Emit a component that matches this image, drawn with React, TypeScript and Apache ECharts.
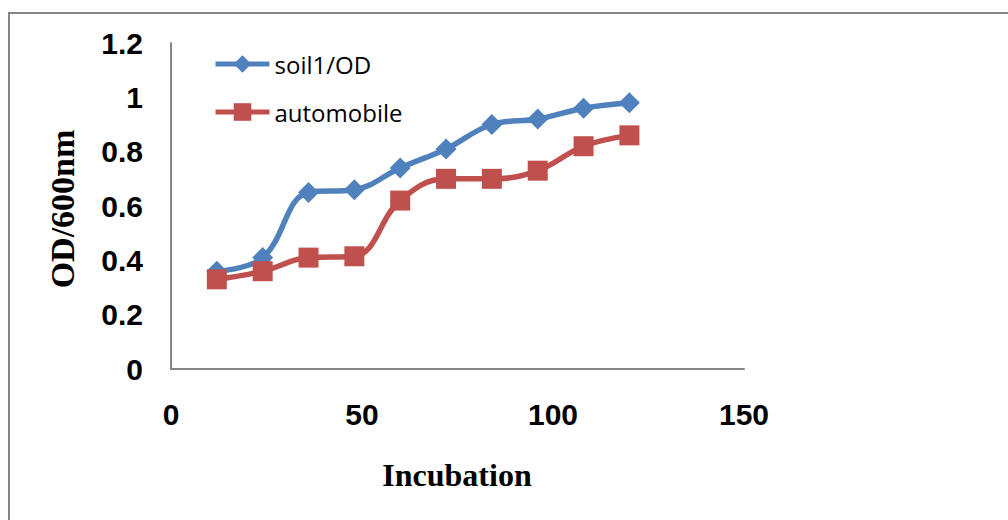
import React, { useEffect, useRef } from "react";
import * as echarts from "echarts";

// Incubation time (hours) and optical density readings at 600 nm
const incubationHours = [12, 24, 36, 48, 60, 72, 84, 96, 108, 120];
const soil1OD = [0.36, 0.41, 0.65, 0.66, 0.74, 0.81, 0.9, 0.92, 0.96, 0.98];
const automobileOD = [0.33, 0.36, 0.41, 0.415, 0.62, 0.7, 0.7, 0.73, 0.82, 0.86];
const seriesNames = ["soil1/OD", "automobile"];
const seriesColors = ["#4F81BD", "#C0504D"];

// Axis ranges and tick steps
const xRange = { min: 0, max: 150, interval: 50 };
const yRange = { min: 0, max: 1.2, interval: 0.2 };

const xAxisTitle = "Incubation";
const yAxisTitle = "OD/600nm";

const GRAY = "#868686";
const LINE_WIDTH = 5.5;

export default function App() {
  const ref = useRef<HTMLDivElement>(null);

  useEffect(() => {
    if (!ref.current) return;
    const chart = echarts.init(ref.current, undefined, { renderer: "svg" });

    const pair = (ys: number[]) => incubationHours.map((x, i) => [x, ys[i]]);

    chart.setOption({
      animation: false,
      backgroundColor: "#ffffff",
      grid: { left: 171, top: 43, right: 264, bottom: 151, containLabel: false },
      legend: {
        orient: "vertical",
        left: 213,
        top: 52,
        padding: 0,
        itemWidth: 54,
        itemHeight: 22,
        itemGap: 24,
        lineStyle: { width: 5 },
        data: seriesNames,
        textStyle: { fontFamily: "Open Sans", fontSize: 24, color: "#000", lineHeight: 22 },
      },
      xAxis: {
        type: "value",
        min: xRange.min,
        max: xRange.max,
        interval: xRange.interval,
        axisLine: { show: true, lineStyle: { color: GRAY, width: 2 } },
        axisTick: { show: false },
        splitLine: { show: false },
        axisLabel: {
          margin: 30,
          fontFamily: "Liberation Sans",
          fontWeight: "bold",
          fontSize: 30,
          color: "#000",
        },
      },
      yAxis: {
        type: "value",
        min: yRange.min,
        max: yRange.max,
        interval: yRange.interval,
        axisLine: { show: true, lineStyle: { color: GRAY, width: 2 } },
        axisTick: { show: false },
        splitLine: { show: false },
        axisLabel: {
          margin: 28,
          fontFamily: "Liberation Sans",
          fontWeight: "bold",
          fontSize: 30,
          color: "#000",
        },
      },
      series: [
        {
          name: seriesNames[0],
          type: "line",
          data: pair(soil1OD),
          smooth: 0.4,
          symbol: "diamond",
          symbolSize: 21,
          color: seriesColors[0],
          lineStyle: { width: LINE_WIDTH, color: seriesColors[0] },
          itemStyle: { color: seriesColors[0] },
        },
        {
          name: seriesNames[1],
          type: "line",
          data: pair(automobileOD),
          smooth: 0.4,
          symbol: "rect",
          symbolSize: 20,
          color: seriesColors[1],
          lineStyle: { width: LINE_WIDTH, color: seriesColors[1] },
          itemStyle: { color: seriesColors[1] },
        },
      ],
      graphic: [
        {
          type: "rect",
          silent: true,
          shape: { x: 9, y: 13, width: 1100, height: 600 },
          style: { fill: "none", stroke: GRAY, lineWidth: 2 },
        },
        {
          type: "text",
          x: 457,
          y: 475,
          style: {
            text: xAxisTitle,
            font: "bold 32px 'Liberation Serif'",
            fill: "#000",
            textAlign: "center",
            textVerticalAlign: "middle",
          },
        },
        {
          type: "text",
          x: 62,
          y: 209,
          rotation: Math.PI / 2,
          style: {
            text: yAxisTitle,
            font: "bold 34px 'Liberation Serif'",
            fill: "#000",
            textAlign: "center",
            textVerticalAlign: "middle",
          },
        },
      ],
    });

    return () => chart.dispose();
  }, []);

  return (
    <div
      ref={ref}
      style={{ position: "fixed", left: 0, top: 0, width: 1008, height: 520, background: "#fff" }}
    />
  );
}
